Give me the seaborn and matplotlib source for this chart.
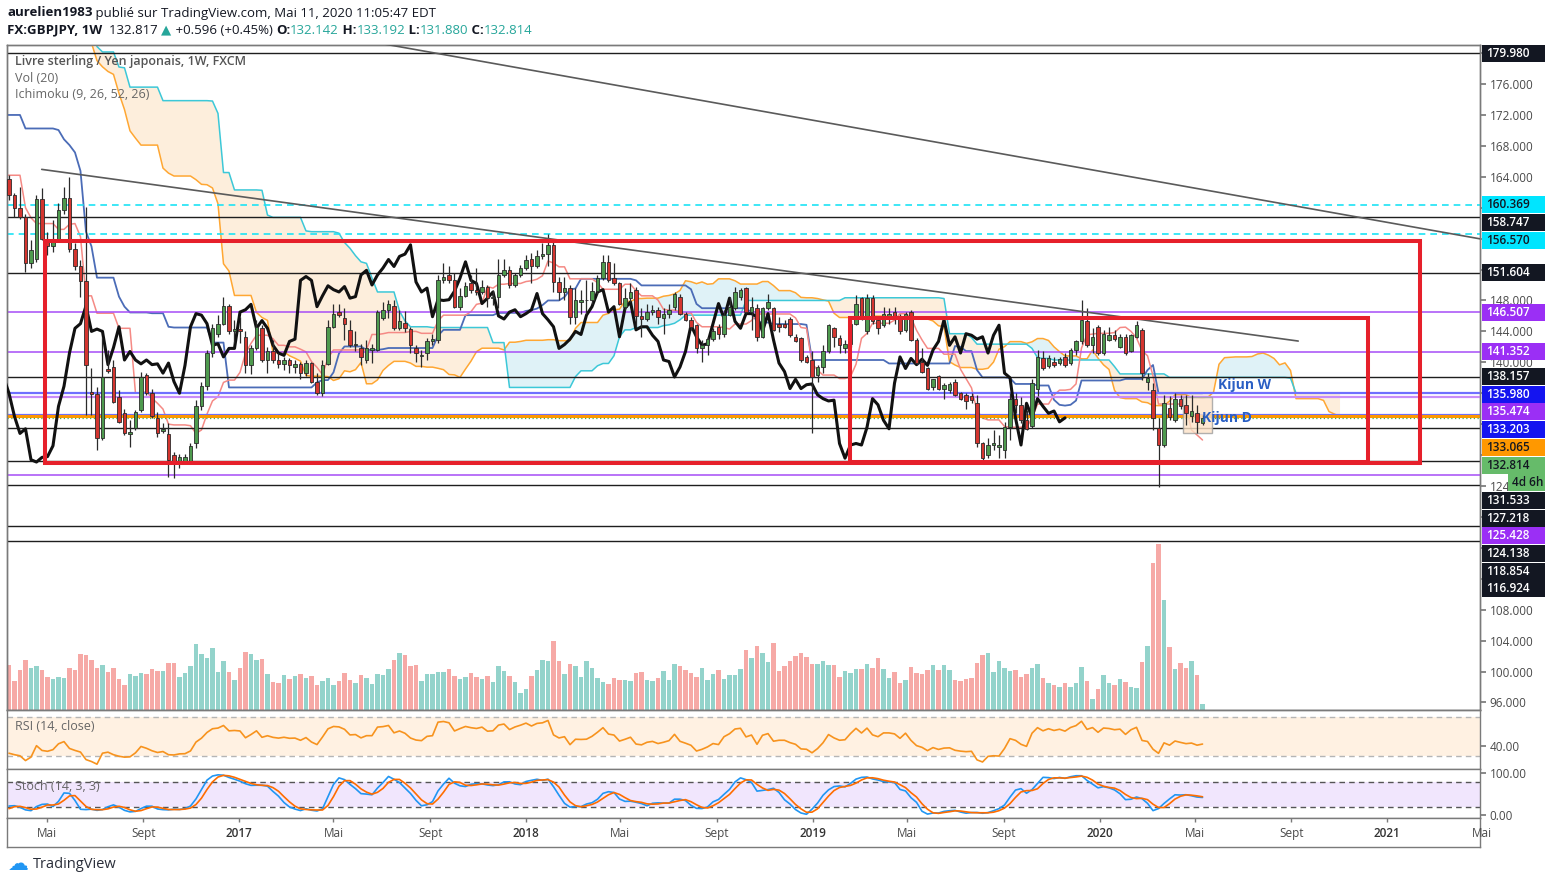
import numpy as np
import pandas as pd
import matplotlib
matplotlib.use("Agg")
import matplotlib.pyplot as plt
import matplotlib.transforms as mtransforms
from matplotlib.patches import Rectangle
import seaborn as sns

sns.set_theme(style="white")
plt.rcParams["font.family"] = ["Open Sans", "DejaVu Sans"]

# ---- weekly GBPJPY bars, week of 2016-03-14 .. week of 2020-05-11 ----
first_week = "2016-03-14"
opens = [163.7, 161.6, 160.0, 158.8, 152.8, 153.4, 161.1, 156.0, 155.0, 156.0,
         159.7, 161.2, 154.6, 152.4, 150.5, 136.1, 135.9, 130.2, 139.1, 139.4,
         135.5, 133.4, 130.7, 131.5, 133.8, 138.4, 136.0, 132.8, 131.1, 130.7,
         128.0, 127.2, 127.1, 127.1, 129.5, 134.3, 136.9, 141.2, 143.7, 145.0,
         147.3, 144.1, 144.3, 143.3, 139.7, 141.8, 144.4, 140.3, 141.5, 140.3,
         139.8, 140.3, 139.4, 139.8, 138.6, 139.9, 137.5, 136.0, 139.8, 144.6,
         146.5, 145.7, 144.2, 142.2, 141.9, 140.3, 141.6, 141.6, 145.7, 146.8,
         147.3, 144.4, 145.1, 144.3, 141.8, 140.8, 141.2, 142.7, 142.9, 150.6,
         151.3, 150.6, 147.2, 148.6, 150.2, 149.4, 149.1, 149.8, 148.3, 148.5,
         151.3, 151.9, 150.0, 151.3, 152.2, 153.4, 152.4, 153.7, 154.0, 155.2,
         150.4, 149.1, 149.6, 145.9, 147.8, 148.0, 148.1, 149.2, 150.9, 153.0,
         150.9, 150.2, 147.2, 148.3, 149.3, 146.0, 145.6, 146.5, 146.8, 145.7,
         146.3, 147.2, 148.5, 146.3, 145.5, 144.8, 141.8, 142.3, 143.0, 144.6,
         143.6, 146.1, 147.0, 148.5, 149.6, 146.5, 147.0, 143.3, 147.0, 147.0,
         145.0, 144.9, 145.6, 143.3, 143.1, 140.7, 140.3, 138.3, 139.4, 141.4,
         144.4, 143.1, 141.8, 142.4, 145.0, 148.3, 144.0, 148.3, 145.5, 144.8,
         146.0, 146.5, 145.9, 144.2, 146.5, 142.9, 140.1, 139.2, 136.8, 138.2,
         136.6, 136.4, 137.5, 136.0, 135.8, 135.6, 134.7, 129.5, 128.0, 129.3,
         129.0, 128.7, 131.6, 135.3, 134.5, 132.5, 131.7, 136.6, 140.5, 139.5,
         140.1, 139.9, 140.7, 139.9, 141.6, 142.7, 145.3, 142.2, 144.6, 141.2,
         142.9, 143.5, 142.0, 143.3, 141.5, 143.3, 144.2, 137.5, 136.4, 131.5,
         129.3, 134.1, 132.5, 135.2, 134.5, 133.1, 133.4, 132.142]
highs = [164.2, 161.9, 162.7, 159.2, 155.8, 161.6, 162.5, 156.9, 158.4, 160.6,
         162.7, 164.0, 155.4, 153.2, 160.1, 139.2, 136.8, 143.3, 141.6, 140.3,
         136.4, 134.0, 132.5, 133.8, 138.8, 138.6, 136.6, 133.6, 132.1, 132.1,
         128.4, 128.2, 128.2, 129.5, 135.1, 137.5, 141.6, 145.0, 146.1, 148.5,
         147.6, 145.5, 145.9, 144.0, 142.3, 145.5, 144.8, 142.0, 142.9, 141.2,
         140.7, 140.5, 140.3, 140.1, 140.3, 140.1, 138.6, 140.3, 145.5, 147.6,
         147.6, 147.0, 145.5, 144.0, 142.4, 142.9, 142.4, 146.8, 147.8, 148.1,
         148.1, 146.8, 146.6, 144.6, 142.2, 141.6, 143.1, 143.7, 151.3, 152.8,
         152.4, 151.5, 149.6, 150.4, 151.3, 152.2, 150.6, 150.0, 149.4, 153.4,
         153.4, 152.4, 151.5, 152.6, 153.9, 154.1, 154.5, 155.4, 156.6, 155.6,
         151.1, 151.1, 150.0, 149.6, 149.4, 150.6, 150.4, 151.3, 153.9, 153.9,
         152.8, 150.4, 149.6, 150.2, 149.8, 147.0, 147.6, 147.4, 147.2, 147.0,
         147.6, 149.1, 148.9, 146.5, 145.9, 145.0, 142.9, 143.3, 144.4, 145.0,
         146.8, 148.5, 149.8, 149.6, 149.8, 148.5, 147.6, 147.2, 148.9, 147.2,
         145.9, 145.5, 145.9, 143.7, 143.3, 140.9, 141.4, 139.6, 142.2, 145.0,
         144.6, 143.5, 142.9, 145.5, 148.7, 148.5, 148.9, 148.7, 145.9, 147.2,
         147.0, 147.2, 146.3, 146.5, 146.8, 143.1, 141.8, 139.4, 137.9, 138.4,
         137.3, 137.5, 137.9, 136.2, 136.0, 136.0, 135.8, 129.7, 130.2, 131.2,
         130.6, 132.3, 136.0, 136.0, 135.5, 133.8, 137.9, 141.6, 141.4, 141.0,
         140.7, 140.7, 141.2, 141.8, 142.9, 148.1, 147.0, 144.4, 144.8, 144.2,
         144.6, 144.2, 143.7, 143.7, 143.7, 145.3, 144.4, 138.6, 137.3, 132.8,
         135.8, 135.6, 136.0, 135.8, 135.8, 135.8, 134.5, 133.192]
lows = [161.0, 158.8, 158.5, 151.7, 152.2, 153.0, 155.8, 153.9, 154.3, 155.8,
        159.2, 154.3, 151.9, 148.5, 133.2, 133.2, 128.7, 130.0, 138.6, 134.7,
        132.1, 130.6, 129.1, 131.3, 133.6, 135.8, 132.8, 130.4, 130.9, 125.2,
        125.0, 126.3, 126.9, 126.9, 128.9, 133.8, 136.4, 140.7, 143.3, 144.8,
        143.7, 142.5, 142.5, 138.6, 138.5, 141.6, 140.1, 138.6, 139.9, 139.2,
        139.0, 138.6, 138.6, 137.9, 138.2, 137.3, 135.8, 135.6, 139.6, 144.4,
        145.9, 142.9, 142.0, 141.4, 139.6, 139.9, 139.9, 141.4, 145.5, 145.7,
        144.2, 144.2, 143.9, 141.2, 140.1, 139.4, 140.3, 142.2, 142.5, 150.2,
        150.3, 147.0, 146.8, 148.5, 149.0, 148.7, 148.9, 147.2, 147.4, 147.0,
        151.1, 149.6, 149.8, 151.1, 151.9, 150.2, 152.2, 153.4, 152.4, 149.1,
        148.1, 148.1, 145.0, 145.0, 146.3, 146.3, 147.6, 148.9, 150.6, 150.4,
        150.0, 147.4, 146.8, 147.8, 144.6, 143.3, 145.3, 146.1, 145.0, 143.7,
        145.7, 146.8, 146.1, 145.3, 144.2, 141.2, 140.1, 141.0, 142.7, 143.0,
        143.3, 146.0, 146.8, 148.0, 146.4, 144.2, 142.7, 143.1, 146.8, 144.0,
        143.9, 144.4, 143.3, 142.6, 140.1, 139.9, 130.8, 137.5, 138.6, 141.2,
        142.0, 141.2, 141.2, 142.0, 144.8, 145.5, 143.7, 145.0, 143.7, 144.6,
        145.0, 145.0, 143.7, 143.9, 142.7, 139.6, 138.6, 136.4, 136.4, 136.4,
        135.3, 136.0, 135.6, 135.1, 134.0, 134.8, 129.1, 127.2, 127.6, 128.7,
        127.6, 127.6, 129.9, 133.4, 132.1, 131.2, 131.5, 135.6, 139.0, 139.2,
        139.4, 139.6, 139.4, 139.6, 140.9, 142.4, 142.0, 141.2, 141.0, 141.0,
        142.7, 142.7, 141.8, 141.0, 141.3, 143.1, 137.7, 136.4, 131.2, 123.9,
        129.1, 132.5, 132.3, 134.0, 131.9, 132.3, 130.8, 131.880]
closes = [161.6, 160.0, 158.8, 152.8, 154.5, 161.1, 156.0, 155.0, 156.0, 159.7,
          161.2, 154.6, 152.4, 150.5, 139.6, 135.9, 130.2, 138.1, 138.9, 134.9,
          132.3, 130.8, 131.0, 133.6, 138.1, 136.0, 133.0, 130.8, 131.4, 127.4,
          127.1, 127.7, 127.8, 129.2, 134.3, 136.9, 141.2, 144.4, 145.0, 147.3,
          144.0, 144.3, 144.0, 139.7, 141.9, 144.6, 140.3, 141.4, 140.3, 139.8,
          140.3, 139.7, 139.8, 138.6, 139.9, 137.5, 136.0, 139.6, 144.6, 146.3,
          146.1, 145.0, 142.2, 142.4, 140.7, 141.8, 141.8, 146.5, 146.8, 147.5,
          144.4, 145.4, 144.4, 142.2, 141.2, 140.9, 142.7, 143.0, 150.6, 151.1,
          150.6, 147.2, 148.6, 149.9, 149.4, 149.1, 149.8, 148.3, 148.5, 151.3,
          151.9, 150.0, 151.3, 152.2, 153.3, 152.4, 153.7, 154.0, 155.2, 150.4,
          149.1, 149.6, 145.9, 148.1, 148.0, 148.1, 149.2, 150.9, 153.0, 150.6,
          150.2, 147.6, 148.3, 149.1, 146.0, 145.6, 146.5, 146.8, 145.9, 146.3,
          146.8, 148.9, 146.3, 145.5, 144.6, 141.8, 142.3, 143.0, 144.0, 143.6,
          146.1, 147.2, 149.1, 149.4, 146.5, 147.2, 143.3, 147.0, 147.8, 144.2,
          144.6, 144.6, 143.5, 142.7, 140.3, 140.1, 138.1, 139.4, 141.4, 144.8,
          143.3, 142.2, 142.4, 145.0, 147.6, 145.7, 148.3, 145.3, 144.4, 146.3,
          146.3, 145.9, 144.0, 146.3, 142.9, 139.9, 138.8, 136.6, 137.8, 136.6,
          137.1, 137.2, 135.8, 135.3, 135.0, 135.1, 129.5, 127.6, 129.3, 129.5,
          129.3, 131.6, 135.3, 134.5, 132.5, 131.4, 137.3, 140.7, 139.2, 140.5,
          139.7, 140.4, 139.6, 141.6, 142.7, 145.5, 142.2, 143.3, 141.2, 143.7,
          143.5, 143.0, 143.3, 141.2, 143.5, 144.8, 138.6, 138.0, 132.8, 129.3,
          134.7, 132.9, 135.3, 134.3, 133.4, 133.7, 132.3, 132.814]
volumes = [45, 29, 40, 50, 42, 44, 40, 33, 31, 33,
           32, 42, 40, 56, 55, 50, 42, 45, 38, 42,
           31, 25, 36, 34, 37, 36, 41, 39, 39, 47,
           47, 33, 37, 44, 66, 56, 52, 62, 38, 49,
           38, 30, 42, 58, 56, 50, 51, 36, 28, 27,
           35, 31, 34, 36, 32, 34, 25, 29, 32, 25,
           29, 37, 30, 27, 35, 32, 26, 36, 35, 41,
           50, 57, 55, 44, 45, 29, 36, 36, 38, 38,
           41, 34, 31, 33, 37, 33, 31, 34, 28, 44,
           39, 34, 28, 17, 21, 34, 40, 50, 49, 69,
           49, 36, 46, 44, 33, 49, 42, 32, 28, 26,
           32, 30, 30, 29, 37, 38, 30, 29, 32, 39,
           30, 46, 44, 40, 37, 33, 42, 30, 36, 40,
           31, 35, 35, 41, 60, 52, 64, 57, 48, 67,
           39, 44, 49, 54, 57, 53, 46, 46, 49, 45,
           45, 33, 39, 37, 41, 41, 46, 42, 52, 41,
           32, 38, 27, 30, 43, 37, 36, 40, 45, 40,
           45, 40, 30, 29, 31, 32, 47, 55, 57, 38,
           49, 42, 39, 40, 33, 36, 42, 46, 32, 27,
           25, 23, 27, 23, 27, 43, 29, 11, 21, 35,
           27, 25, 31, 28, 23, 22, 48, 64, 147, 166,
           110, 63, 41, 47, 42, 49, 35, 6]

# weeks before the first visible bar (2014-09-15 .. 2016-03-07), used by Ichimoku / RSI / Stoch
hist_highs = [179.2, 178.5, 178.4, 176.2, 173.3, 173.6, 180.7, 183.2, 183.6, 186.2,
              186.5, 188.8, 189.0, 187.1, 188.0, 187.4, 184.2, 182.8, 180.5, 179.3,
              182.4, 183.5, 184.2, 185.1, 185.6, 183.4, 180.8, 179.4, 179.9, 178.4,
              178.2, 181.0, 186.4, 190.0, 187.8, 189.7, 190.7, 195.5, 196.0, 195.4,
              195.8, 193.4, 190.0, 193.3, 194.0, 194.6, 195.0, 195.9, 195.8, 189.4,
              187.6, 186.4, 188.3, 186.4, 184.2, 185.2, 186.2, 186.5, 187.0, 187.8,
              187.4, 188.8, 188.4, 186.0, 184.5, 182.6, 181.0, 180.6, 176.8, 172.0,
              169.2, 173.0, 173.2, 168.3, 165.7, 161.7, 161.0, 163.6]
hist_lows = [176.0, 176.3, 173.9, 171.6, 167.8, 170.6, 172.0, 179.2, 180.4, 182.4,
             183.9, 184.8, 183.6, 182.9, 185.8, 182.8, 179.3, 175.4, 175.8, 175.6,
             176.6, 180.6, 181.6, 182.4, 182.6, 177.6, 176.8, 176.4, 175.8, 174.6,
             175.0, 176.6, 180.1, 182.6, 184.7, 185.6, 187.0, 189.0, 190.6, 191.6,
             191.9, 186.4, 184.8, 188.4, 191.5, 190.9, 192.3, 192.5, 187.2, 177.0,
             179.5, 181.6, 183.3, 180.6, 179.7, 181.3, 181.6, 182.5, 182.1, 182.6,
             184.6, 186.0, 183.9, 182.8, 179.4, 179.4, 178.6, 175.7, 170.3, 165.7,
             164.3, 166.6, 166.5, 160.4, 160.2, 155.2, 156.8, 158.8]
hist_closes = [178.2, 177.5, 175.9, 172.5, 171.6, 172.6, 179.7, 181.2, 182.7, 185.4,
               185.6, 188.2, 185.1, 186.9, 186.8, 184.0, 180.6, 177.9, 177.6, 176.9,
               181.6, 183.1, 183.8, 184.8, 182.8, 178.4, 178.3, 178.6, 177.9, 175.6,
               177.7, 180.5, 183.9, 186.7, 186.8, 188.8, 189.8, 194.8, 192.7, 194.9,
               193.1, 189.4, 189.6, 193.0, 192.1, 193.8, 193.3, 194.8, 188.3, 186.1,
               182.0, 185.5, 184.6, 182.5, 181.3, 184.4, 182.7, 186.0, 185.9, 185.6,
               186.2, 187.5, 185.0, 184.2, 180.1, 180.4, 179.6, 177.3, 170.8, 167.1,
               168.6, 172.4, 167.9, 163.9, 160.6, 157.5, 160.2, 162.6]

# horizontal levels drawn on the chart and their style kind
levels = [179.980, 160.369, 158.747, 156.570, 151.604, 146.507, 141.352, 138.157,
          135.980, 135.474, 133.203, 133.065, 132.814, 131.533, 127.218, 125.428,
          124.138, 118.854, 116.924]
level_kinds = ["black", "cyan", "black", "cyan", "black", "purple", "purple", "black",
               "blue", "lilac", "blue", "orange", "last", "black", "black", "purple",
               "black", "black", "black"]

# drawings: rectangles (week from, week to, price low, price high) and trend lines
boxes = [(6.5, 256.5, 126.95, 155.65), (152.9, 247.1, 127.05, 145.69)]
trend_lines = [((5.95, 164.96), (234.4, 142.75)), ((186.85, 166.17), (268.9, 155.79))]

tick_dates = ["2016-05-01", "2016-09-01", "2017-01-01", "2017-05-01", "2017-09-01",
              "2018-01-01", "2018-05-01", "2018-09-01", "2019-01-01", "2019-05-01",
              "2019-09-01", "2020-01-01", "2020-05-01", "2020-09-01", "2021-01-01",
              "2021-05-01"]
tick_text = ["Mai", "Sept", "2017", "Mai", "Sept", "2018", "Mai", "Sept", "2019", "Mai",
             "Sept", "2020", "Mai", "Sept", "2021", "Mai"]

# ---------------------------------------------------------------------------
W, H = 1555, 885
fig = plt.figure(figsize=(W / 100, H / 100), dpi=100)
fig.patch.set_facecolor("white")


def frame(x0, y0, x1, y1):
    return [x0 / W, 1 - y1 / H, (x1 - x0) / W, (y1 - y0) / H]


XLIM = (-0.36, 267.45)
GRAY = "#4a4a4a"
SPINE = "#7a7a7a"

ax = fig.add_axes(frame(7, 45, 1480, 710))
axv = ax.twinx()
ax_rsi = fig.add_axes(frame(7, 710, 1480, 769))
ax_st = fig.add_axes(frame(7, 769, 1480, 818))
ax_t = fig.add_axes(frame(7, 818, 1480, 847))

for a in (ax, axv, ax_rsi, ax_st, ax_t):
    a.set_xlim(*XLIM)
    a.set_xticks([])
    for s in a.spines.values():
        s.set_color(SPINE)
        s.set_linewidth(1.0)

ax.set_zorder(axv.get_zorder() + 1)
ax.patch.set_visible(False)
axv.patch.set_facecolor("white")

ax.set_ylim(95.02, 181.05)
axv.set_ylim(0, 665)
axv.set_yticks([])

o = np.array(opens)
hi = np.array(highs)
lo = np.array(lows)
c = np.array(closes)
pos = np.arange(len(c))
up = c >= o

# volume overlay
axv.bar(pos, volumes, width=0.8, color=np.where(up, "#93d3cb", "#f6a9a6"), linewidth=0)

# Ichimoku
all_h = pd.Series(hist_highs + highs)
all_l = pd.Series(hist_lows + lows)
all_c = pd.Series(hist_closes + closes)
g = np.arange(len(all_c)) - len(hist_closes)


def midline(n):
    return (all_h.rolling(n).max() + all_l.rolling(n).min()) / 2


tenkan = midline(9)
kijun = midline(26)
lead_a = (tenkan + kijun) / 2
lead_b = midline(52)

xs_lead = g + 25
ok = (xs_lead >= -1) & lead_b.notna().values
xa, ya, yb = xs_lead[ok], lead_a.values[ok], lead_b.values[ok]
ax.fill_between(xa, ya, yb, where=yb >= ya, interpolate=True, color="#fdeedc", lw=0, zorder=1)
ax.fill_between(xa, ya, yb, where=ya > yb, interpolate=True, color="#dff2f7", lw=0, zorder=1)
sns.lineplot(x=xa, y=ya, ax=ax, color="#ffa733", linewidth=1.1, zorder=2)
sns.lineplot(x=xa, y=yb, ax=ax, color="#3cc8d8", linewidth=1.1, zorder=2)

okv = g >= -1
sns.lineplot(x=g[okv], y=kijun.values[okv], ax=ax, color="#4b6cb7", linewidth=1.3, zorder=2)
sns.lineplot(x=g[okv], y=tenkan.values[okv], ax=ax, color="#f58a85", linewidth=1.1, zorder=2)
xs_lag = g - 25
okl = xs_lag >= -1
sns.lineplot(x=xs_lag[okl], y=all_c.values[okl], ax=ax, color="#111111", linewidth=2.2, zorder=3)

# horizontal levels
line_style = {
    "black": ("#1e1e1e", 1.0, "-"),
    "cyan": ("#1de3f5", 1.2, (0, (4, 3))),
    "purple": ("#a64df6", 1.1, "-"),
    "blue": ("#6f6fff", 1.6, "-"),
    "lilac": ("#c98cf8", 1.6, "-"),
    "orange": ("#ff9800", 2.2, "-"),
    "last": ("#4caf50", 0.9, (0, (1, 2))),
}
label_style = {
    "black": ("#131722", "white"),
    "cyan": ("#00e5ff", "#131722"),
    "purple": ("#9b2ff5", "white"),
    "blue": ("#1414f0", "white"),
    "lilac": ("#9b2ff5", "white"),
    "orange": ("#ff9800", "#131722"),
    "last": ("#66bb6a", "#131722"),
}
for v, k in zip(levels, level_kinds):
    col, lw, ls = line_style[k]
    ax.axhline(v, color=col, lw=lw, ls=ls, zorder=2.5)

# candles
ax.vlines(pos, lo, hi, color="#2b2b2b", lw=0.9, zorder=4)
ax.bar(pos, np.maximum(np.abs(c - o), 0.12), bottom=np.minimum(o, c), width=0.62,
       color=np.where(up, "#4e9a4e", "#d4352f"), edgecolor="#2b2b2b", linewidth=0.6, zorder=5)

# drawings
for x0, x1, p0, p1 in boxes:
    ax.add_patch(Rectangle((x0, p0), x1 - x0, p1 - p0, fill=False, ec="#e6202b", lw=2.9, zorder=7))
ax.add_patch(Rectangle((213.5, 130.85), 5.2, 4.65, fc="#fde3c8", ec="#9e9e9e", lw=1.0, alpha=0.8, zorder=3))
for (xa0, pa0), (xa1, pa1) in trend_lines:
    slope = (pa1 - pa0) / (xa1 - xa0)
    xx = np.array([xa0 if xa0 < 10 else 40, xa1])
    ax.plot(xx, pa0 + slope * (xx - xa0), color="#5a5a5a", lw=1.2, zorder=6)
ax.text(219.8, 137.05, "Kijun W", color="#2a5fc4", fontsize=10, fontweight="bold", va="center", zorder=8)
ax.text(216.9, 132.75, "Kijun D", color="#2a5fc4", fontsize=10, fontweight="bold", va="center", zorder=8)

# price axis labels (boxed), stacked the way the price scale does
px_per_price = 665 / (181.05 - 95.02)
gap = 17.7 / px_per_price
box_h = 17 / px_per_price
trans = mtransforms.blended_transform_factory(ax.transAxes, ax.transData)
x_box = (1482 - 7) / 1473
w_box = 63 / 1473
prev = None
entries = []
for v, k in zip(levels, level_kinds):
    entries.append((v, f"{v:.3f}", k))
    if k == "last":
        entries.append((v, "4d 6h", "count"))
shown = []
for v, txt, k in entries:
    y = v if prev is None else min(v, prev - gap)
    prev = y
    shown.append((y, k))
    if k == "count":
        bx, bw, bg, fg = (1508 - 7) / 1473, 37 / 1473, "#66bb6a", "#131722"
    else:
        bx, bw = x_box, w_box
        bg, fg = label_style[k]
    ax.add_patch(Rectangle((bx, y - box_h / 2), bw, box_h, transform=trans, fc=bg, ec="none",
                           clip_on=False, zorder=20))
    ax.text(bx + 4 / 1473, y, txt, transform=trans, color=fg, fontsize=8.5, va="center",
            ha="left", clip_on=False, zorder=21, fontweight="semibold")

# plain price ticks; the ones fully hidden behind a boxed label are left unlabeled
ticks = np.arange(96, 181, 4)
tick_labels = []
for t in ticks:
    covered = any(abs(t - y) * px_per_price < 9.5 and k != "count" for y, k in shown)
    tick_labels.append("" if covered else f"{t:.3f}")
ax.yaxis.tick_right()
ax.set_yticks(ticks)
ax.set_yticklabels(tick_labels)
ax.tick_params(axis="y", colors=GRAY, labelsize=8.5, length=4, pad=3, color=SPINE)

# RSI
delta = all_c.diff()
gain = delta.clip(lower=0).ewm(alpha=1 / 14, adjust=False).mean()
loss = (-delta.clip(upper=0)).ewm(alpha=1 / 14, adjust=False).mean()
rsi = 100 - 100 / (1 + gain / loss)
vis = g >= 0
ax_rsi.set_ylim(16.6, 77.05)
ax_rsi.axhspan(30, 70, color="#fff1e2", lw=0, zorder=0)
for lvl in (70, 30):
    ax_rsi.axhline(lvl, color="#b5b5b5", lw=1, ls=(0, (4, 3)), zorder=1)
sns.lineplot(x=g[vis], y=rsi.values[vis], ax=ax_rsi, color="#f7931e", linewidth=1.2, zorder=3)
ax_rsi.yaxis.tick_right()
ax_rsi.set_yticks([40])
ax_rsi.set_yticklabels(["40.00"])
ax_rsi.tick_params(axis="y", colors=GRAY, labelsize=8.5, length=4, pad=3, color=SPINE)

# Stochastic
hh = all_h.rolling(14).max()
ll = all_l.rolling(14).min()
k_line = (100 * (all_c - ll) / (hh - ll)).rolling(3).mean()
d_line = k_line.rolling(3).mean()
ax_st.set_ylim(-7.1, 110.5)
ax_st.axhspan(20, 80, color="#f1e6fd", lw=0, zorder=0)
for lvl in (80, 20):
    ax_st.axhline(lvl, color="#555555", lw=1, ls=(0, (4, 3)), zorder=1)
sns.lineplot(x=g[vis], y=k_line.values[vis], ax=ax_st, color="#2196f3", linewidth=1.2, zorder=3)
sns.lineplot(x=g[vis], y=d_line.values[vis], ax=ax_st, color="#ff6d00", linewidth=1.2, zorder=3)
ax_st.yaxis.tick_right()
ax_st.set_yticks([0, 100])
ax_st.set_yticklabels(["0.00", "100.00"])
ax_st.tick_params(axis="y", colors=GRAY, labelsize=8.5, length=4, pad=3, color=SPINE)
for a in (ax, ax_rsi, ax_st):
    a.set_xlabel("")
    a.set_ylabel("")
    a.set_xlim(*XLIM)

# time axis
tick_pos = (pd.to_datetime(tick_dates) - pd.Timestamp(first_week)).days.values / 7
ax_t.set_ylim(0, 1)
ax_t.set_yticks([])
ax_t.vlines(tick_pos[tick_pos < XLIM[1]], 0.86, 1.0, color=SPINE, lw=1)
for tp, tt in zip(tick_pos, tick_text):
    year = tt.isdigit()
    ax_t.text(tp, 0.47, tt, ha="center", va="center", fontsize=8.5,
              color="#333333" if year else GRAY, fontweight="semibold" if year else "normal",
              clip_on=False)

# pane legends
fig.text(15 / W, 1 - 61 / H, "Livre sterling / Yen japonais, 1W, FXCM", fontsize=9,
         color="#555555", va="center", fontweight="semibold")
fig.text(15 / W, 1 - 78 / H, "Vol (20)", fontsize=9, color="#666666", va="center")
fig.text(15 / W, 1 - 95 / H, "Ichimoku (9, 26, 52, 26)", fontsize=9, color="#666666", va="center")
fig.text(15 / W, 1 - 726 / H, "RSI (14, close)", fontsize=9, color="#666666", va="center")
fig.text(15 / W, 1 - 786 / H, "Stoch (14, 3, 3)", fontsize=9, color="#666666", va="center")

# header
renderer = fig.canvas.get_renderer()


def rich_line(x_px, y_px, parts, size=9.5):
    x = x_px
    for s, col, wt in parts:
        t = fig.text(x / W, 1 - y_px / H, s, color=col, fontsize=size, fontweight=wt,
                     va="center", ha="left")
        x += t.get_window_extent(renderer=renderer).width


DARK = "#131722"
TEAL = "#26a69a"
rich_line(7, 13, [("aurelien1983", DARK, "bold"),
                  (" publié sur TradingView.com, Mai 11, 2020 11:05:47 EDT", DARK, "normal")])
rich_line(7, 30, [("FX:GBPJPY, 1W", DARK, "bold"), ("  132.817 ", DARK, "normal"),
                  ("▲", TEAL, "normal"), (" +0.596 (+0.45%) ", DARK, "normal"),
                  ("O:", DARK, "bold"), ("132.142", TEAL, "normal"),
                  (" H:", DARK, "bold"), ("133.192", TEAL, "normal"),
                  (" L:", DARK, "bold"), ("131.880", TEAL, "normal"),
                  (" C:", DARK, "bold"), ("132.814", TEAL, "normal")])

# footer
fig.text(8 / W, 1 - 864 / H, "☁", color="#2196f3", fontsize=15, va="center")
fig.text(33 / W, 1 - 864 / H, "TradingView", color="#2a2e39", fontsize=10.5, va="center")

fig.savefig("out.png", dpi=100)
